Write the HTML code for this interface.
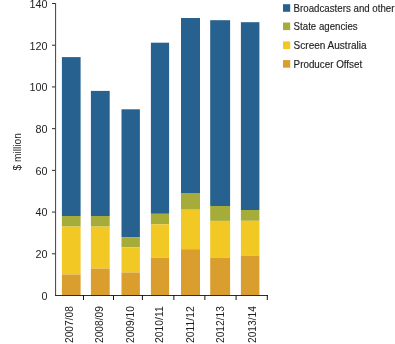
<!DOCTYPE html>
<html><head><meta charset="utf-8"><style>
html,body{margin:0;padding:0;background:#fff;}
body{width:395px;height:344px;overflow:hidden;}
svg{display:block;will-change:transform;}
text{font-family:"Liberation Sans",sans-serif;fill:#1e1e1e;}
.yl{font-size:10.8px;}
.xl{font-size:11px;}
.yt{font-size:10.2px;}
.lg{font-size:10.6px;stroke:#1e1e1e;stroke-width:0.15px;}
</style></head><body>
<svg width="395" height="344" viewBox="0 0 395 344">
<rect x="61.9" y="57.1" width="18.70" height="158.90" fill="#27618f"/>
<rect x="61.9" y="216.0" width="18.70" height="10.60" fill="#a5ac3a"/>
<rect x="61.9" y="226.6" width="18.70" height="47.90" fill="#f2c924"/>
<rect x="61.9" y="274.5" width="18.70" height="20.50" fill="#da9e2e"/>
<rect x="90.9" y="90.9" width="18.80" height="125.10" fill="#27618f"/>
<rect x="90.9" y="216.0" width="18.80" height="10.60" fill="#a5ac3a"/>
<rect x="90.9" y="226.6" width="18.80" height="42.00" fill="#f2c924"/>
<rect x="90.9" y="268.6" width="18.80" height="26.40" fill="#da9e2e"/>
<rect x="121.5" y="109.3" width="18.40" height="128.10" fill="#27618f"/>
<rect x="121.5" y="237.4" width="18.40" height="10.00" fill="#a5ac3a"/>
<rect x="121.5" y="247.4" width="18.40" height="25.10" fill="#f2c924"/>
<rect x="121.5" y="272.5" width="18.40" height="22.50" fill="#da9e2e"/>
<rect x="150.9" y="42.7" width="18.20" height="171.10" fill="#27618f"/>
<rect x="150.9" y="213.8" width="18.20" height="10.50" fill="#a5ac3a"/>
<rect x="150.9" y="224.3" width="18.20" height="33.40" fill="#f2c924"/>
<rect x="150.9" y="257.7" width="18.20" height="37.30" fill="#da9e2e"/>
<rect x="181" y="18.0" width="19.00" height="175.00" fill="#27618f"/>
<rect x="181" y="193.0" width="19.00" height="16.70" fill="#a5ac3a"/>
<rect x="181" y="209.7" width="19.00" height="39.50" fill="#f2c924"/>
<rect x="181" y="249.2" width="19.00" height="45.80" fill="#da9e2e"/>
<rect x="210.2" y="20.2" width="19.90" height="185.80" fill="#27618f"/>
<rect x="210.2" y="206.0" width="19.90" height="14.90" fill="#a5ac3a"/>
<rect x="210.2" y="220.9" width="19.90" height="37.00" fill="#f2c924"/>
<rect x="210.2" y="257.9" width="19.90" height="37.10" fill="#da9e2e"/>
<rect x="240.9" y="22.2" width="18.50" height="187.80" fill="#27618f"/>
<rect x="240.9" y="210.0" width="18.50" height="10.80" fill="#a5ac3a"/>
<rect x="240.9" y="220.8" width="18.50" height="35.10" fill="#f2c924"/>
<rect x="240.9" y="255.9" width="18.50" height="39.10" fill="#da9e2e"/>
<rect x="55.0" y="3" width="1.1" height="293" fill="#505050"/>
<rect x="55.0" y="295" width="213.0" height="1" fill="#2c2c2c"/>
<rect x="52" y="253.29" width="3.0" height="1" fill="#2c2c2c"/>
<rect x="52" y="211.57" width="3.0" height="1" fill="#2c2c2c"/>
<rect x="52" y="169.86" width="3.0" height="1" fill="#2c2c2c"/>
<rect x="52" y="128.14" width="3.0" height="1" fill="#2c2c2c"/>
<rect x="52" y="86.43" width="3.0" height="1" fill="#2c2c2c"/>
<rect x="52" y="44.71" width="3.0" height="1" fill="#2c2c2c"/>
<rect x="52" y="3.00" width="3.0" height="1" fill="#2c2c2c"/>
<text x="47.4" y="299.90" text-anchor="end" class="yl">0</text>
<text x="47.4" y="258.19" text-anchor="end" class="yl">20</text>
<text x="47.4" y="216.47" text-anchor="end" class="yl">40</text>
<text x="47.4" y="174.76" text-anchor="end" class="yl">60</text>
<text x="47.4" y="133.04" text-anchor="end" class="yl">80</text>
<text x="47.4" y="91.33" text-anchor="end" class="yl">100</text>
<text x="47.4" y="49.61" text-anchor="end" class="yl">120</text>
<text x="47.4" y="7.90" text-anchor="end" class="yl">140</text>
<rect x="83.00" y="295" width="1" height="5" fill="#151515"/>
<rect x="113.00" y="295" width="1" height="5" fill="#151515"/>
<rect x="141.90" y="295" width="1" height="5" fill="#151515"/>
<rect x="173.35" y="295" width="1" height="5" fill="#151515"/>
<rect x="204.36" y="295" width="1" height="5" fill="#151515"/>
<rect x="235.60" y="295" width="1" height="5" fill="#151515"/>
<rect x="266.80" y="295" width="1" height="5" fill="#151515"/>
<text transform="translate(73.05,306.2) rotate(-90)" text-anchor="end" class="xl" textLength=36.8 lengthAdjust="spacingAndGlyphs">2007/08</text>
<text transform="translate(103.05,306.2) rotate(-90)" text-anchor="end" class="xl" textLength=36.8 lengthAdjust="spacingAndGlyphs">2008/09</text>
<text transform="translate(133.70,306.2) rotate(-90)" text-anchor="end" class="xl" textLength=36.8 lengthAdjust="spacingAndGlyphs">2009/10</text>
<text transform="translate(162.65,306.2) rotate(-90)" text-anchor="end" class="xl" textLength=36.8 lengthAdjust="spacingAndGlyphs">2010/11</text>
<text transform="translate(194.20,306.2) rotate(-90)" text-anchor="end" class="xl" textLength=36.8 lengthAdjust="spacingAndGlyphs">2011/12</text>
<text transform="translate(224.15,306.2) rotate(-90)" text-anchor="end" class="xl" textLength=36.8 lengthAdjust="spacingAndGlyphs">2012/13</text>
<text transform="translate(255.65,306.2) rotate(-90)" text-anchor="end" class="xl" textLength=36.8 lengthAdjust="spacingAndGlyphs">2013/14</text>
<text transform="translate(20.5,151.8) rotate(-90)" text-anchor="middle" class="yt">$ million</text>
<rect x="283" y="4.2" width="7.2" height="7.6" fill="#27618f"/>
<text x="293.6" y="12.00" class="lg" textLength="100.9" lengthAdjust="spacingAndGlyphs">Broadcasters and other</text>
<rect x="283" y="22.5" width="7.2" height="7.6" fill="#a5ac3a"/>
<text x="293.6" y="30.30" class="lg" textLength="64.1" lengthAdjust="spacingAndGlyphs">State agencies</text>
<rect x="283" y="41.4" width="7.2" height="7.6" fill="#f2c924"/>
<text x="293.6" y="49.20" class="lg" textLength="73.0" lengthAdjust="spacingAndGlyphs">Screen Australia</text>
<rect x="283" y="60.1" width="7.2" height="7.6" fill="#da9e2e"/>
<text x="293.6" y="67.90" class="lg" textLength="68.6" lengthAdjust="spacingAndGlyphs">Producer Offset</text>
</svg>
</body></html>
